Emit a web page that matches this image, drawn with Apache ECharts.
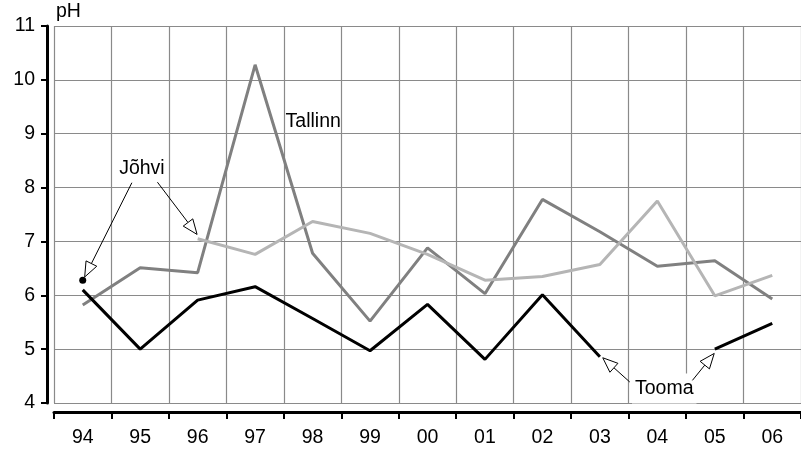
<!DOCTYPE html>
<html>

<head>
    <meta charset="utf-8">
    <title>pH</title>
    <script src="https://cdn.jsdelivr.net/npm/echarts@6/dist/echarts.min.js"></script>
    <style>
        body { margin: 0; background: #fff; }
        #main { width: 801px; height: 450px; }
    </style>
</head>

<body>
    <div id="main"></div>

    <script type="text/javascript">

        // aastad (x telg)
        var years = ['94', '95', '96', '97', '98', '99', '00', '01', '02', '03', '04', '05', '06'];

        var tallinn = [5.82, 6.51, 6.42, 10.28, 6.78, 5.52, 6.88, 6.03, 7.78, 7.18, 6.54, 6.64, 5.93];
        var johvi   = [6.28, null, 7.05, 6.76, 7.37, 7.15, 6.76, 6.28, 6.35, 6.57, 7.75, 5.99, 6.37];
        var tooma   = [6.10, 5.00, 5.91, 6.16, 5.57, 4.97, 5.83, 4.81, 6.01, 4.86, null, 5.00, 5.48];

        var yMin = 4, yMax = 11, yStep = 1;

        var font = '"Liberation Sans", Arial, Helvetica, sans-serif';
        var fs = 19.5;
        var gridColor = '#8a8a8a';

        var myChart = echarts.init(document.getElementById('main'));

        // Jõhvi 94 is only a single point (black dot)
        var johviData = johvi.map(function (v, i) {
            if (i === 0) {
                return { value: v, symbol: 'circle', symbolSize: 7, itemStyle: { color: '#000' } };
            }
            return v;
        });

        var option = {
            animation: false,
            grid: { left: 54, top: 26, width: 754, height: 377 },
            xAxis: {
                type: 'category',
                data: years,
                boundaryGap: true,
                offset: 9,
                axisLine: { show: true, lineStyle: { color: '#000', width: 3 } },
                axisTick: { show: true, inside: false, length: 7, lineStyle: { color: '#000', width: 2 } },
                axisLabel: { color: '#000', fontSize: fs, fontFamily: font, margin: 16 },
                splitLine: { show: true, lineStyle: { color: gridColor, width: 1.2 } }
            },
            yAxis: {
                type: 'value',
                min: yMin,
                max: yMax,
                interval: yStep,
                offset: 7,
                name: 'pH',
                nameLocation: 'end',
                nameGap: 4,
                nameTextStyle: { color: '#000', fontSize: fs, fontFamily: font, align: 'left', padding: [0, 0, 0, 9] },
                axisLine: { show: true, lineStyle: { color: '#000', width: 3 } },
                axisTick: { show: true, length: 6, lineStyle: { color: '#000', width: 2 } },
                axisLabel: { color: '#000', fontSize: fs, fontFamily: font, margin: 12 },
                splitLine: { show: true, lineStyle: { color: gridColor, width: 1.2 } }
            },
            series: [{
                name: 'Tallinn',
                type: 'line',
                data: tallinn,
                symbol: 'none',
                lineStyle: { color: '#808080', width: 3 }
            }, {
                name: 'Jõhvi',
                type: 'line',
                data: johviData,
                symbol: 'none',
                showSymbol: true,
                lineStyle: { color: '#b5b5b5', width: 3 },
                itemStyle: { color: '#b5b5b5' }
            }, {
                name: 'Tooma',
                type: 'line',
                data: tooma,
                symbol: 'none',
                lineStyle: { color: '#000', width: 3 }
            }]
        };

        myChart.setOption(option);

        // annotations in data units: [category index, pH]
        function px(ci, v) {
            var i0 = Math.floor(ci), f = ci - i0;
            var a = myChart.convertToPixel({ gridIndex: 0 }, [i0, v]);
            var b = myChart.convertToPixel({ gridIndex: 0 }, [i0 + 1, v]);
            return [a[0] + (b[0] - a[0]) * f, a[1]];
        }

        function arrow(from, to) {
            var p0 = px(from[0], from[1]), p1 = px(to[0], to[1]);
            var dx = p1[0] - p0[0], dy = p1[1] - p0[1];
            var len = Math.sqrt(dx * dx + dy * dy);
            var ux = dx / len, uy = dy / len;
            var head = 15, half = 6;
            var bx = p1[0] - ux * head, by = p1[1] - uy * head;
            return [{
                type: 'line',
                shape: { x1: p0[0], y1: p0[1], x2: bx, y2: by },
                style: { stroke: '#000', lineWidth: 1 },
                z: 10
            }, {
                type: 'polygon',
                shape: { points: [p1, [bx - uy * half, by + ux * half], [bx + uy * half, by - ux * half]] },
                style: { fill: '#fff', stroke: '#000', lineWidth: 1 },
                z: 10
            }];
        }

        function label(text, at, align, bg) {
            var p = px(at[0], at[1]);
            return {
                type: 'text',
                x: p[0], y: p[1],
                style: {
                    text: text, fill: '#000', fontSize: fs, fontFamily: font,
                    align: align, verticalAlign: 'middle',
                    backgroundColor: bg ? '#fff' : null,
                    padding: bg ? [4, 3, 6, 3] : 0
                },
                z: 9
            };
        }

        var graphics = [];
        graphics.push(label('Jõhvi', [1.03, 8.35], 'center', false));
        graphics = graphics.concat(arrow([0.855, 8.09], [0.034, 6.34]));
        graphics = graphics.concat(arrow([1.30, 8.10], [1.99, 7.13]));
        graphics.push(label('Tallinn', [3.53, 9.23], 'left', false));
        graphics.push(label('Tooma', [10.12, 4.27], 'center', true));
        graphics = graphics.concat(arrow([9.52, 4.39], [9.05, 4.84]));
        graphics = graphics.concat(arrow([10.61, 4.42], [10.99, 4.92]));

        myChart.setOption({ graphic: graphics });

    </script>
</body>

</html>
